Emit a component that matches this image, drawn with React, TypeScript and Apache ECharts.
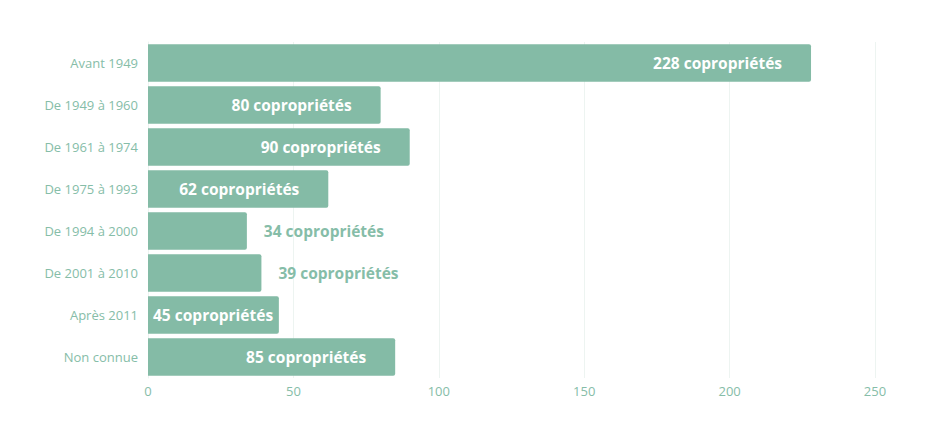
import React, { useEffect, useRef } from "react";
import * as echarts from "echarts";

const categories = [
  "Avant 1949",
  "De 1949 à 1960",
  "De 1961 à 1974",
  "De 1975 à 1993",
  "De 1994 à 2000",
  "De 2001 à 2010",
  "Après 2011",
  "Non connue",
];
const values = [228, 80, 90, 62, 34, 39, 45, 85];
// where each value label sits relative to its bar
const labelPlacement = ["in", "in", "in", "in", "out", "out", "left", "in"];

const BAR = "#84bba6";
const TEXT = "#86bda8";

export default function App() {
  const ref = useRef<HTMLDivElement>(null);
  useEffect(() => {
    if (!ref.current) return;
    const chart = echarts.init(ref.current, null, { renderer: "svg" });
    const data = values.map((v, i) => {
      const p = labelPlacement[i];
      const label =
        p === "in"
          ? { position: "insideRight", distance: 29, color: "#ffffff" }
          : p === "left"
          ? { position: "insideLeft", distance: 5, color: "#ffffff" }
          : { position: "right", distance: 17, color: TEXT };
      return { value: v, label };
    });
    chart.setOption({
      animation: false,
      grid: { left: 148, right: 60, top: 42, bottom: 59, containLabel: false },
      xAxis: {
        type: "value",
        min: 0,
        max: 250,
        interval: 50,
        axisLine: { show: false },
        axisTick: { show: false },
        axisLabel: {
          color: TEXT,
          fontFamily: "Open Sans",
          fontSize: 13,
          margin: 6,
        },
        splitLine: { lineStyle: { color: "#edf4f1", width: 1 } },
      },
      yAxis: {
        type: "category",
        data: categories,
        inverse: true,
        axisLine: { show: true, lineStyle: { color: "#edf4f1" } },
        axisTick: { show: false },
        axisLabel: {
          color: TEXT,
          fontFamily: "Open Sans",
          fontSize: 13,
          margin: 10,
        },
      },
      series: [
        {
          type: "bar",
          data,
          barCategoryGap: "11%",
          itemStyle: { color: BAR, borderRadius: [0, 2, 2, 0] },
          label: {
            show: true,
            formatter: "{c} copropriétés",
            fontFamily: "Open Sans",
            fontWeight: "bold",
            fontSize: 15.5,
          },
        },
      ],
    });
    return () => chart.dispose();
  }, []);
  return <div ref={ref} style={{ width: 935, height: 437, margin: -8 }} />;
}
